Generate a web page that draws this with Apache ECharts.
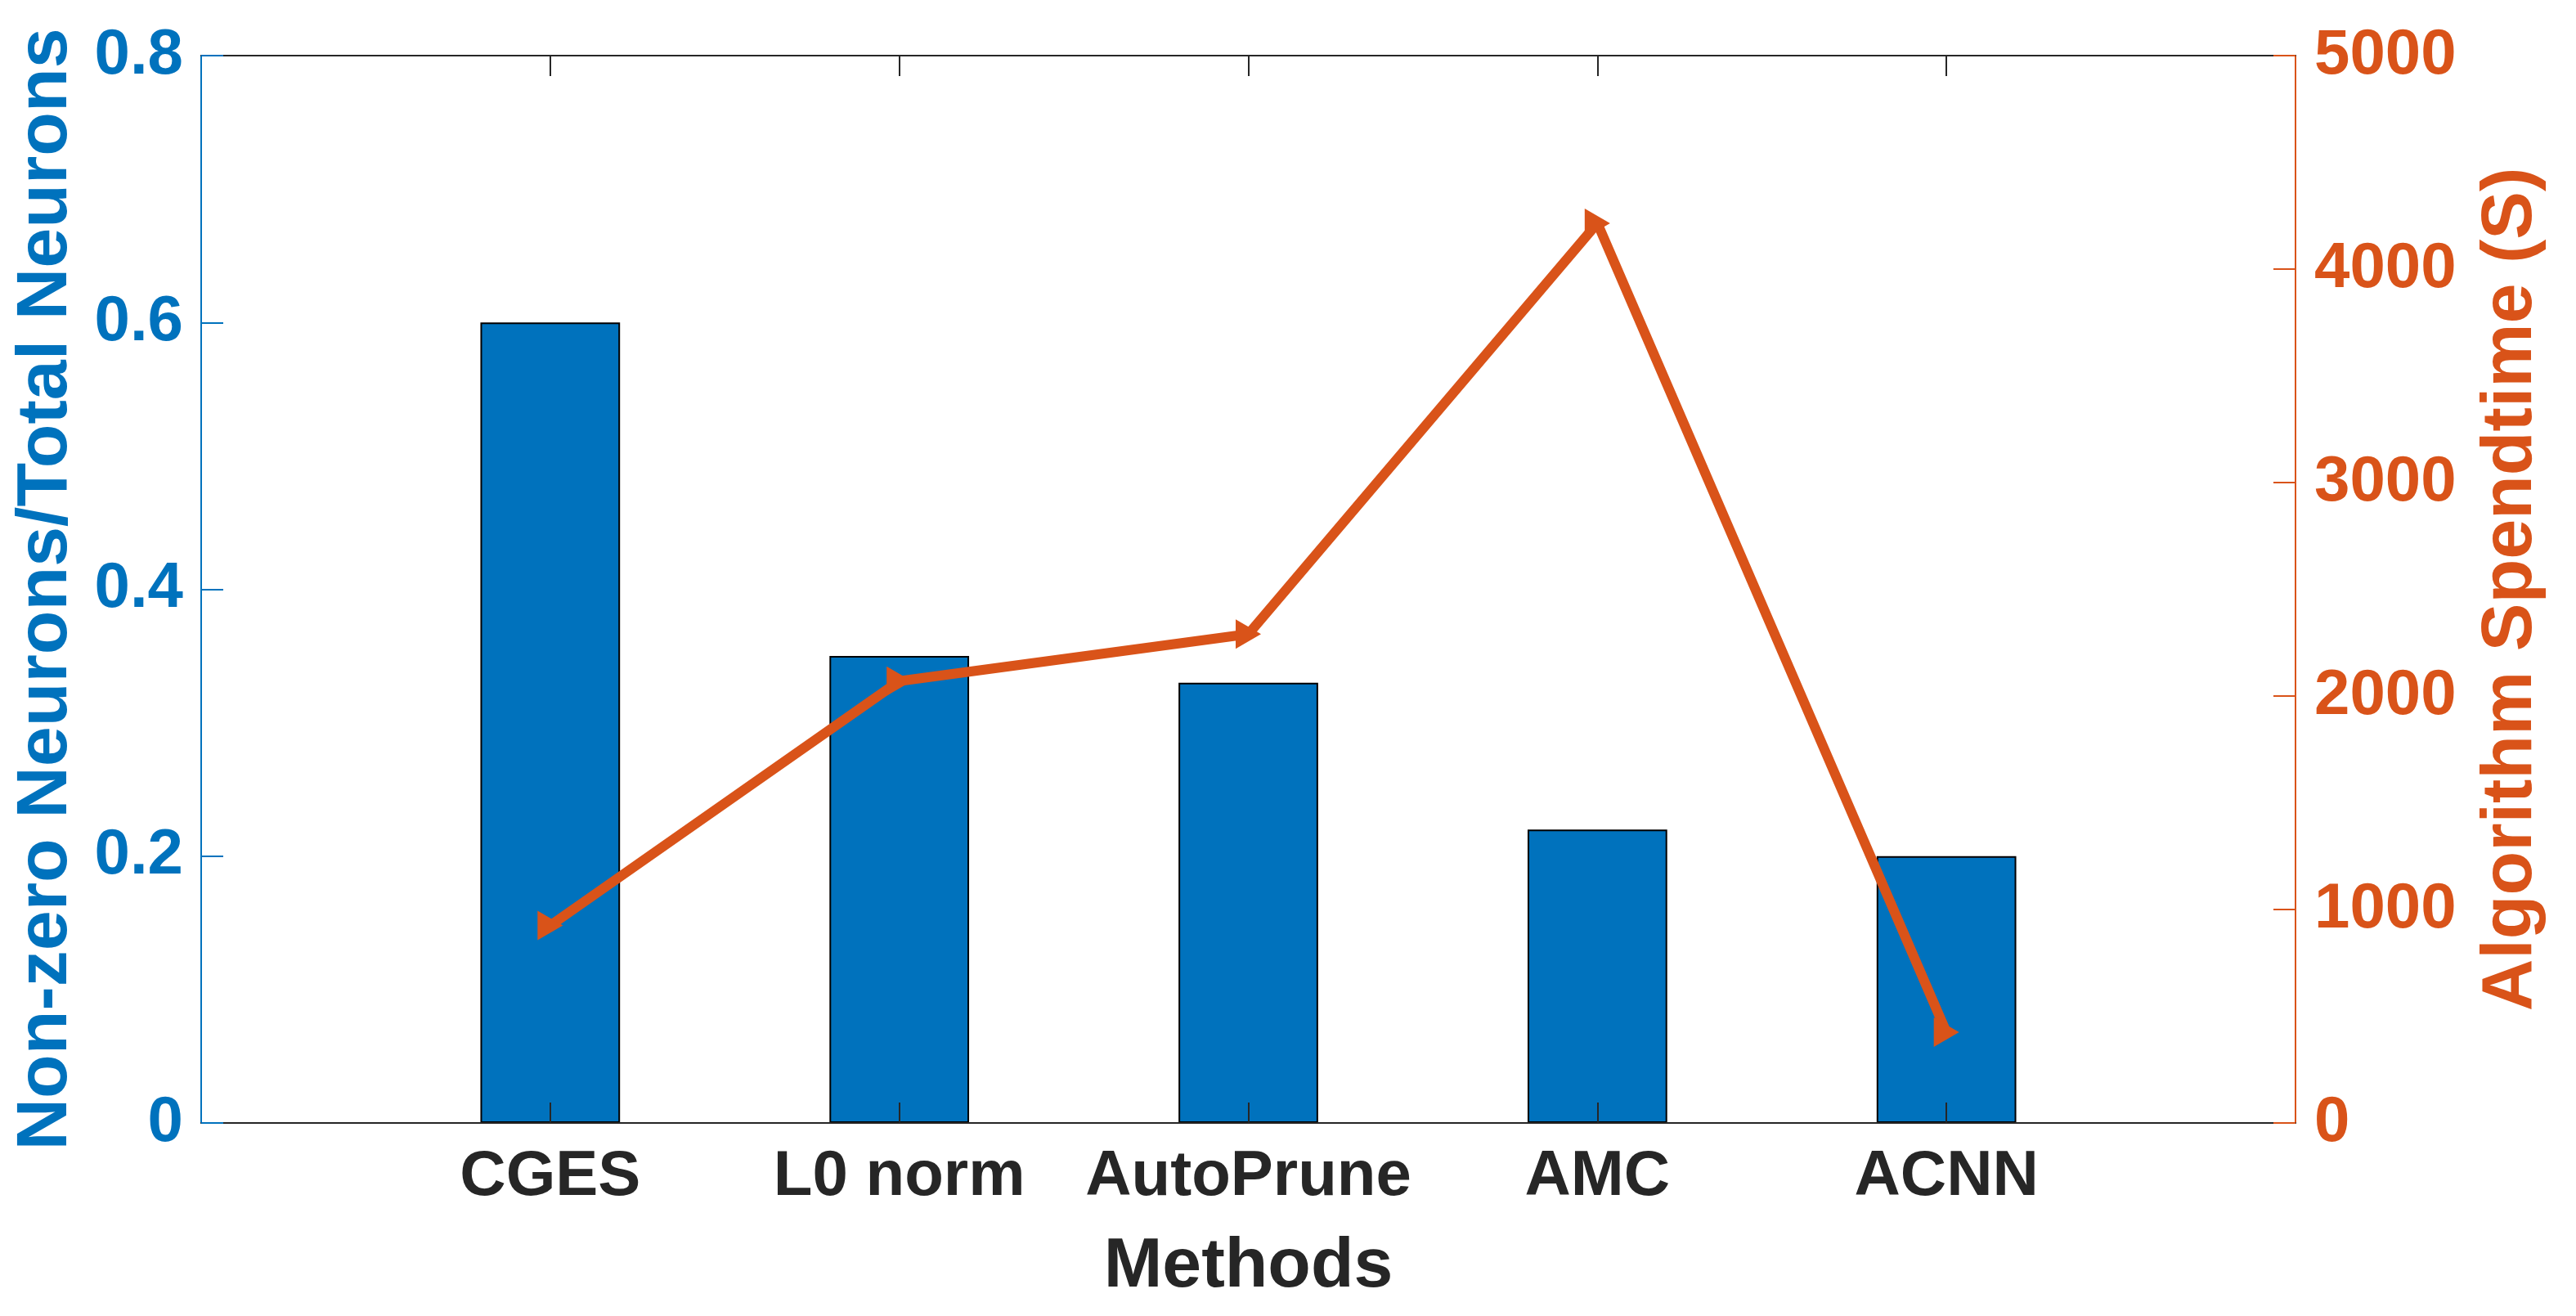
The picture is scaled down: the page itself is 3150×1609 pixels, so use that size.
<!DOCTYPE html>
<html>
<head>
<meta charset="utf-8">
<script src="https://cdn.jsdelivr.net/npm/echarts@6/dist/echarts.min.js"></script>
<style>
html,body{margin:0;padding:0;background:#fff;}
#chart{width:3150px;height:1609px;}
</style>
</head>
<body>
<div id="chart"></div>
<script>
const methods = ['CGES', 'L0 norm', 'AutoPrune', 'AMC', 'ACNN'];
const neuronRatio = [0.60, 0.35, 0.33, 0.22, 0.20];
const spendTime = [925, 2070, 2290, 4215, 425];
const leftTicks = { min: 0, max: 0.8, interval: 0.2 };
const rightTicks = { min: 0, max: 5000, interval: 1000 };

const blue = '#0072BD';
const orange = '#D95319';
const dark = '#262626';
const font = '"Liberation Sans", Arial, Helvetica, sans-serif';

// pad one empty slot on each side (axis spans 0..6, bars at 1..5)
const cats = [''].concat(methods, ['']);
const barData = [null].concat(neuronRatio, [null]);
const lineData = [null].concat(spendTime, [null]);
const tickShow = (i, v) => v !== '';

const chart = echarts.init(document.getElementById('chart'), null, { renderer: 'canvas' });
chart.setOption({
  animation: false,
  backgroundColor: '#fff',
  grid: { left: 246, right: 343, top: 68, bottom: 236, containLabel: false },
  xAxis: [{
    type: 'category',
    data: cats,
    boundaryGap: false,
    position: 'bottom',
    z: 10,
    name: 'Methods',
    nameLocation: 'middle',
    nameGap: 133,
    nameTextStyle: { color: dark, fontSize: 86, fontWeight: 'bold', fontFamily: font },
    axisLine: { show: true, onZero: false, lineStyle: { color: dark, width: 2 } },
    axisTick: { show: true, inside: true, length: 25, interval: tickShow, lineStyle: { color: dark, width: 2 } },
    axisLabel: { show: true, interval: 0, margin: 27, color: dark, fontSize: 78, fontWeight: 'bold', fontFamily: font },
    splitLine: { show: false }
  }, {
    type: 'category',
    data: cats,
    boundaryGap: false,
    position: 'top',
    z: 10,
    axisLine: { show: true, onZero: false, lineStyle: { color: dark, width: 2 } },
    axisTick: { show: true, inside: true, length: 25, interval: tickShow, lineStyle: { color: dark, width: 2 } },
    axisLabel: { show: false },
    splitLine: { show: false }
  }],
  yAxis: [{
    type: 'value',
    position: 'left',
    z: 10,
    min: leftTicks.min, max: leftTicks.max, interval: leftTicks.interval,
    name: 'Non-zero Neurons/Total Neurons',
    nameLocation: 'middle',
    nameGap: 145,
    nameTextStyle: { color: blue, fontSize: 88, fontWeight: 'bold', fontFamily: font },
    axisLine: { show: true, lineStyle: { color: blue, width: 2 } },
    axisTick: { show: true, inside: true, length: 27, lineStyle: { color: blue, width: 2 } },
    axisLabel: { margin: 22, color: blue, fontSize: 78, fontWeight: 'bold', fontFamily: font,
      formatter: v => (Math.round(v * 10) / 10).toString() },
    splitLine: { show: false }
  }, {
    type: 'value',
    position: 'right',
    z: 10,
    min: rightTicks.min, max: rightTicks.max, interval: rightTicks.interval,
    name: 'Algorithm Spendtime (S)',
    nameLocation: 'middle',
    nameRotate: 90,
    nameGap: 220,
    nameTextStyle: { color: orange, fontSize: 88, fontWeight: 'bold', fontFamily: font },
    axisLine: { show: true, lineStyle: { color: orange, width: 2 } },
    axisTick: { show: true, inside: true, length: 27, lineStyle: { color: orange, width: 2 } },
    axisLabel: { margin: 23, color: orange, fontSize: 78, fontWeight: 'bold', fontFamily: font,
      formatter: v => String(Math.round(v)) },
    splitLine: { show: false }
  }],
  series: [{
    type: 'bar',
    name: 'Non-zero Neurons/Total Neurons',
    xAxisIndex: 0,
    yAxisIndex: 0,
    data: barData,
    barWidth: '40%',
    itemStyle: { color: blue, borderColor: '#000', borderWidth: 2 }
  }, {
    type: 'line',
    name: 'Algorithm Spendtime (S)',
    xAxisIndex: 0,
    yAxisIndex: 1,
    data: lineData,
    lineStyle: { color: orange, width: 12 },
    itemStyle: { color: orange },
    symbol: 'triangle',
    symbolSize: [36, 31],
    symbolRotate: -90,
    showAllSymbol: true,
    z: 5
  }]
});
</script>
</body>
</html>
